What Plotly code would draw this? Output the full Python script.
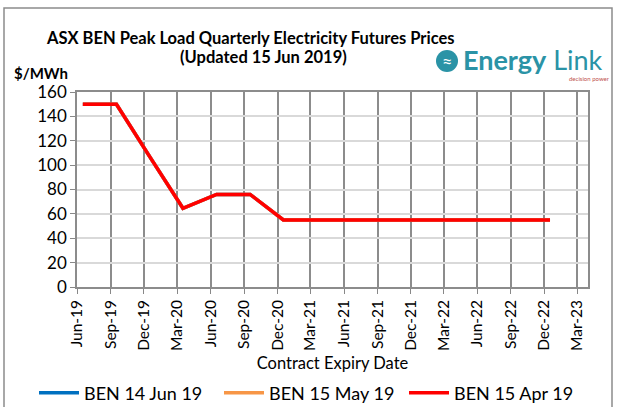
import plotly.graph_objects as go

# quarterly contract expiry dates (points sit mid-month on a date axis)
expiry = ["2019-06-17", "2019-09-17", "2019-12-17", "2020-03-17", "2020-06-17",
          "2020-09-17", "2020-12-17", "2021-03-17", "2021-06-17", "2021-09-17",
          "2021-12-17", "2022-03-17", "2022-06-17", "2022-09-17", "2022-12-17"]
ben_14_jun = [150, 150, 107, 64.6, 76, 76, 55, 55, 55, 55, 55, 55, 55, 55, 55]
ben_15_may = [150, 150, 107, 64.6, 76, 76, 55, 55, 55, 55, 55, 55, 55, 55, 55]
ben_15_apr = [150, 150, 107, 64.6, 76, 76, 55, 55, 55, 55, 55, 55, 55, 55, 55]

series = [("BEN 14 Jun 19", ben_14_jun, "#0070C0"),
          ("BEN 15 May 19", ben_15_may, "#F79646"),
          ("BEN 15 Apr 19", ben_15_apr, "#FF0000")]

W, H = 618, 407
L, R, T, B = 77, 30, 92, 120
PW, PH = W - L - R, H - T - B


def px_x(x):
    return (x - L) / PW


def px_y(y):
    return (H - B - y) / PH


FONT = "Lato"

fig = go.Figure()
for name, vals, color in series:
    fig.add_trace(go.Scatter(
        x=expiry, y=vals, name=name, mode="lines",
        line=dict(color=color, width=3.5)
    ))

fig.update_layout(
    width=W, height=H,
    margin=dict(l=L, r=R, t=T, b=B, autoexpand=False),
    paper_bgcolor="white",
    plot_bgcolor="white",
    font=dict(family=FONT, color="black"),
    showlegend=True,
    legend=dict(orientation="h", x=px_x(34), xanchor="left", y=px_y(393), yanchor="middle",
                font=dict(size=18, family=FONT), itemwidth=40, tracegroupgap=0,
                entrywidth=130, bgcolor="rgba(0,0,0,0)"),
    xaxis=dict(
        type="date", automargin=False,
        range=["2019-06-01", "2023-03-31"],
        tick0="2019-06-01", dtick="M3",
        tickformat="%b-%y", tickangle=-90,
        tickfont=dict(size=15.5, family=FONT),
        ticks="outside", ticklen=5, tickcolor="#888888",
        showgrid=True, gridcolor="#8c8c8c", gridwidth=1.5,
        showline=True, linecolor="#8c8c8c", linewidth=1.5, mirror=True,
        title=dict(text="Contract Expiry Date", font=dict(size=16.5, family=FONT), standoff=8),
    ),
    yaxis=dict(
        range=[0, 160], dtick=20, automargin=False,
        tickfont=dict(size=17, family=FONT),
        ticks="outside", ticklen=5, tickcolor="#888888",
        showgrid=True, gridcolor="#d9d9d9", gridwidth=1.5,
        showline=True, linecolor="#8c8c8c", linewidth=1.5, mirror=True,
        zeroline=False,
    ),
    shapes=[
        dict(type="rect", xref="paper", yref="paper",
             x0=px_x(4), x1=px_x(612), y0=px_y(420), y1=px_y(8),
             line=dict(color="#8c8c8c", width=1.5), layer="below"),
        dict(type="circle", xref="paper", yref="paper",
             x0=px_x(436), x1=px_x(458), y0=px_y(72), y1=px_y(50),
             fillcolor="#2a93a6", line=dict(width=0)),
    ],
    annotations=[
        dict(text="<b>ASX BEN Peak Load Quarterly Electricity Futures Prices</b>",
             xref="paper", yref="paper", x=px_x(250), y=px_y(38),
             xanchor="center", yanchor="middle", showarrow=False,
             font=dict(size=16.5, family=FONT)),
        dict(text="<b>(Updated 15 Jun 2019)</b>",
             xref="paper", yref="paper", x=px_x(263), y=px_y(57),
             xanchor="center", yanchor="middle", showarrow=False,
             font=dict(size=16.5, family=FONT)),
        dict(text="<b>$/MWh</b>",
             xref="paper", yref="paper", x=px_x(12), y=px_y(73),
             xanchor="left", yanchor="middle", showarrow=False,
             font=dict(size=15, family=FONT)),
        dict(text="≈",
             xref="paper", yref="paper", x=px_x(447), y=px_y(61),
             xanchor="center", yanchor="middle", showarrow=False,
             font=dict(size=18, family=FONT, color="white")),
        dict(text="<b>Energy</b> Link",
             xref="paper", yref="paper", x=px_x(461), y=px_y(60),
             xanchor="left", yanchor="middle", showarrow=False,
             font=dict(size=27, family=FONT, color="#2a93a6")),
        dict(text="decision power",
             xref="paper", yref="paper", x=px_x(612), y=px_y(78),
             xanchor="right", yanchor="middle", showarrow=False,
             font=dict(size=6, family=FONT, color="#c0504d")),
    ],
)

fig.write_html("out.html", config={"displayModeBar": False},
               post_script="document.body.style.margin='0';")
